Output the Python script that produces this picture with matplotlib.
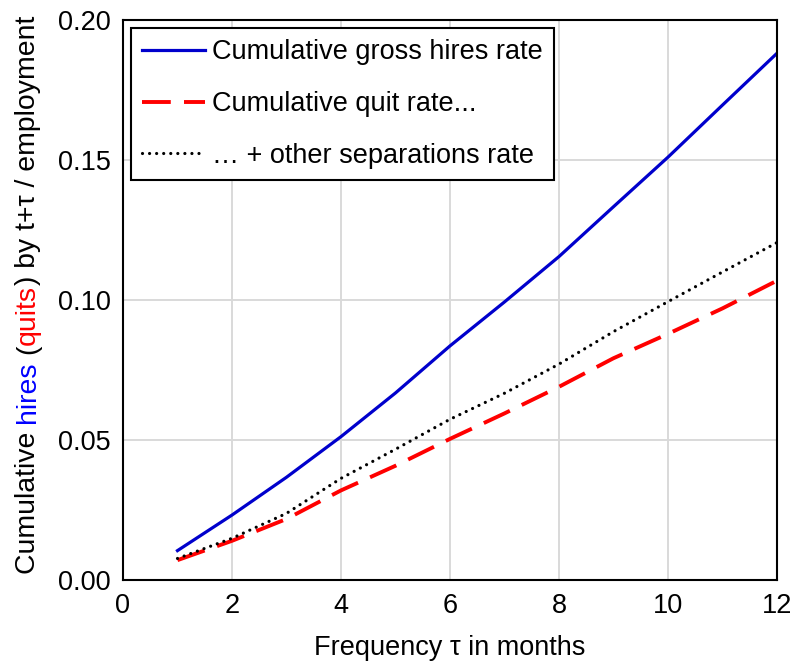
import matplotlib
matplotlib.use('Agg')
import matplotlib.pyplot as plt

# values
months = [1, 2, 3, 4, 5, 6, 7, 8, 9, 10, 11, 12]
hires = [0.0105, 0.0232, 0.0367, 0.0512, 0.0668, 0.0836, 0.0993, 0.1155, 0.1333, 0.1510, 0.1696, 0.1881]
quits = [0.0071, 0.0140, 0.0218, 0.0320, 0.0408, 0.0504, 0.0595, 0.0690, 0.0792, 0.0879, 0.0970, 0.1069]
seps = [0.0077, 0.0149, 0.0238, 0.0363, 0.0467, 0.0574, 0.0667, 0.0771, 0.0887, 0.0994, 0.1100, 0.1205]

labels = ['Cumulative gross hires rate', 'Cumulative quit rate...', '\u2026 + other separations rate']
x_ticks = [0, 2, 4, 6, 8, 10, 12]
y_ticks = [0.00, 0.05, 0.10, 0.15, 0.20]

plt.rcParams['font.family'] = ['Liberation Sans', 'DejaVu Sans']
fs = 19.5

fig = plt.figure(figsize=(7.92, 6.66), dpi=100)
ax = fig.add_axes([0.1553, 0.1291, 0.8257, 0.8409])

ax.plot(months, hires, color='#0000cc', lw=2.3, label=labels[0])
ax.plot(months, quits, color='#ff0000', lw=2.8, dashes=(7.4, 3.4), label=labels[1])
ax.plot(months, seps, color='black', lw=2.3, ls=(0, (0.01, 2.2)),
        dash_capstyle='round', label=labels[2])

ax.set_xlim(0, 12)
ax.set_ylim(0, 0.20)
ax.set_xticks(x_ticks)
ax.set_yticks(y_ticks)
ax.set_yticklabels(['%.2f' % v for v in y_ticks])
ax.tick_params(length=0, labelsize=fs, pad=9)
ax.grid(True, color='#d9d9d9', lw=1.4)
ax.set_axisbelow(True)
for s in ax.spines.values():
    s.set_linewidth(1.5)
    s.set_color('black')

ax.set_xlabel('Frequency \u03c4 in months', fontsize=fs, labelpad=12)

leg = ax.legend(loc='upper left', bbox_to_anchor=(0.0, 1.0), borderaxespad=0.3,
                fontsize=fs, frameon=True, fancybox=False, edgecolor='black',
                framealpha=1, handlelength=2.3, handletextpad=0.26,
                labelspacing=0.95, borderpad=0.42)
leg.get_frame().set_linewidth(1.5)

# multi-coloured y label built from pieces
fig.canvas.draw()
renderer = fig.canvas.get_renderer()
W, H = fig.bbox.width, fig.bbox.height
yfs = 20.4


def text_w(s):
    t = fig.text(0, 0, s, fontsize=yfs)
    w = t.get_window_extent(renderer).width
    t.remove()
    return w


pieces = [('Cumulative ', 'black'), ('hires', '#0000ff'), (' (', 'black'),
          ('quits', '#ff0000'), (') by t+\u03c4 / employment', 'black')]
full = ''.join(p for p, c in pieces)
bar_w = text_w('|')
total = text_w(full + '|') - bar_w
y_center = H - 294.5
x_base = 35
prefix = ''
for s, c in pieces:
    lead = len(s) - len(s.lstrip())
    pre = prefix + s[:lead]
    off = text_w(pre + '|') - bar_w if pre else 0
    fig.text(x_base / W, (y_center - total / 2 + off) / H, s.lstrip(), fontsize=yfs,
             color=c, rotation=90, rotation_mode='anchor', ha='left', va='baseline')
    prefix += s

fig.savefig('out.png', dpi=100)
